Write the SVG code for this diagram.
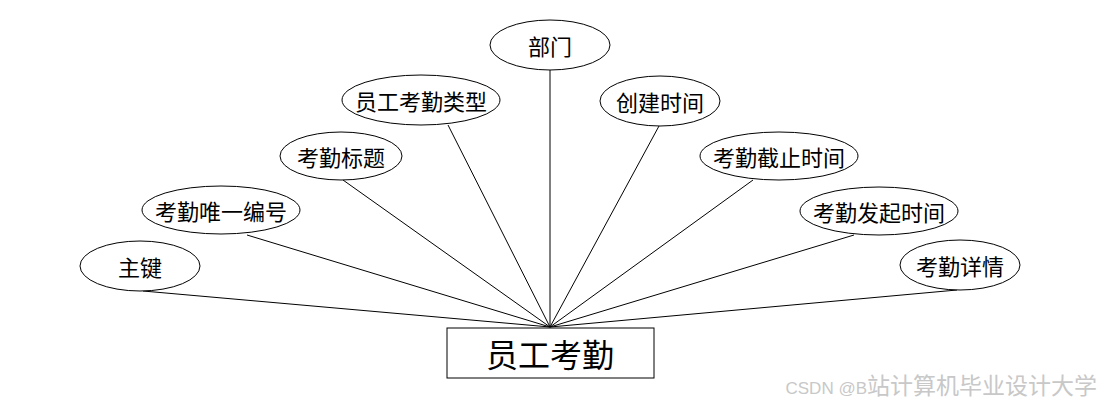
<svg xmlns="http://www.w3.org/2000/svg" width="1100" height="408" viewBox="0 0 1100 408">
<style>
.e{fill:#fff;stroke:#000;stroke-width:1}
.t{font-family:"Noto Sans CJK SC","Liberation Sans",sans-serif;font-size:22px;fill:#000;text-anchor:middle;dominant-baseline:central}
.c line{stroke:#000;stroke-width:1}
</style>
<rect width="1100" height="408" fill="#fff"/>
<g class="c" id="connectors">
<line x1="143" y1="291" x2="550" y2="327"/>
<line x1="247" y1="235" x2="550" y2="327"/>
<line x1="343" y1="180" x2="550" y2="327"/>
<line x1="448" y1="125" x2="550" y2="327"/>
<line x1="550" y1="70" x2="550" y2="327"/>
<line x1="659" y1="126" x2="550" y2="327"/>
<line x1="753" y1="180" x2="550" y2="327"/>
<line x1="854" y1="235" x2="550" y2="327"/>
<line x1="957" y1="290" x2="550" y2="327"/>
</g>
<g id="n-main"><rect x="447" y="328" width="207" height="50" fill="#fff" stroke="#000"/><text class="t" x="550" y="353" style="font-size:32px">员工考勤</text></g>
<g id="n-bumen"><ellipse class="e" cx="550" cy="45" rx="60" ry="25"/><text class="t" x="550" y="45">部门</text></g>
<g id="n-leixing"><ellipse class="e" cx="421" cy="100" rx="79" ry="25"/><text class="t" x="421" y="100">员工考勤类型</text></g>
<g id="n-biaoti"><ellipse class="e" cx="341" cy="156" rx="61" ry="24"/><text class="t" x="341" y="156">考勤标题</text></g>
<g id="n-bianhao"><ellipse class="e" cx="221" cy="210" rx="79" ry="24"/><text class="t" x="221" y="210">考勤唯一编号</text></g>
<g id="n-zhujian"><ellipse class="e" cx="140" cy="266" rx="60" ry="25"/><text class="t" x="140" y="266">主键</text></g>
<g id="n-chuangjian"><ellipse class="e" cx="660" cy="101" rx="60" ry="25"/><text class="t" x="660" y="101">创建时间</text></g>
<g id="n-jiezhi"><ellipse class="e" cx="779" cy="156" rx="79" ry="24"/><text class="t" x="779" y="156">考勤截止时间</text></g>
<g id="n-faqi"><ellipse class="e" cx="879" cy="211" rx="79" ry="24"/><text class="t" x="879" y="211">考勤发起时间</text></g>
<g id="n-xiangqing"><ellipse class="e" cx="960" cy="265" rx="60" ry="25"/><text class="t" x="960" y="265">考勤详情</text></g>
<text x="1097" y="394" text-anchor="end" font-family="'Liberation Sans','Noto Sans CJK SC',sans-serif" fill="#c8c8c8"><tspan font-size="17">CSDN @B</tspan><tspan font-size="23">站计算机毕业设计大学</tspan></text>
</svg>
